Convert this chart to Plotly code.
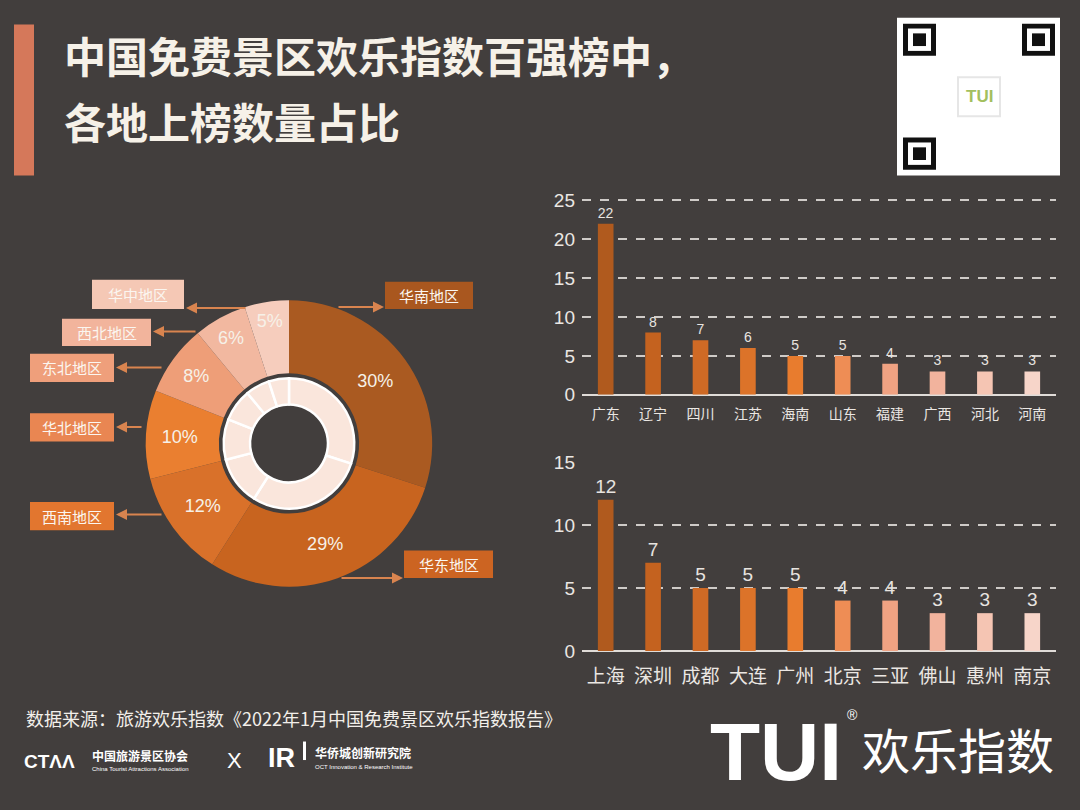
import plotly.graph_objects as go

W, H = 1080, 810
def px(x): return x / W
def py(y): return 1 - y / H

# ---------------- data ----------------
region_labels = ["华南地区", "华东地区", "西南地区", "华北地区", "东北地区", "西北地区", "华中地区"]
region_share = [30, 29, 12, 10, 8, 6, 5]

province_names = ["广东", "辽宁", "四川", "江苏", "海南", "山东", "福建", "广西", "河北", "河南"]
province_counts = [22, 8, 7, 6, 5, 5, 4, 3, 3, 3]

city_names = ["上海", "深圳", "成都", "大连", "广州", "北京", "三亚", "佛山", "惠州", "南京"]
city_counts = [12, 7, 5, 5, 5, 4, 4, 3, 3, 3]

# ---------------- styles ----------------
BG = "#423e3d"
CREAM = "#f6f1e8"
FONT = "Liberation Sans, Noto Sans CJK SC, sans-serif"
CJK = "Noto Sans CJK SC, sans-serif"

slice_colors = ["#aa5a21", "#c8641f", "#d9712a", "#ea7f30", "#ee9e78", "#f2b8a0", "#f6cdbd"]
box_colors = ["#a9571f", "#cc6422", "#e2762f", "#e98652", "#ef9f7b", "#f2b49c", "#f5c8b5"]
bar_colors = ["#b05a1e", "#c4621f", "#cf6a25", "#dc7329", "#e87c2e",
              "#ee8d55", "#f0a282", "#f2b39d", "#f5c5b3", "#f7d5c9"]

fig = go.Figure()

def note(x, y, text, size, color="#ffffff", family=CJK, xanchor="center", yanchor="middle"):
    fig.add_annotation(x=px(x), y=py(y), xref="paper", yref="paper", text=text, showarrow=False,
                       xanchor=xanchor, yanchor=yanchor,
                       font=dict(size=size, color=color, family=family))

def rect(x0, y0, x1, y1, color, layer="above"):
    fig.add_shape(type="rect", xref="paper", yref="paper", x0=px(x0), x1=px(x1), y0=py(y1), y1=py(y0),
                  fillcolor=color, line=dict(width=0), layer=layer)

# ---------------- donut ----------------
cx, cy, R = 289, 445, 147
fig.add_trace(go.Pie(
    labels=region_labels, values=region_share, sort=False, direction="clockwise",
    rotation=0, hole=72 / 147,
    domain=dict(x=[px(cx - R), px(cx + R)], y=[py(cy + R), py(cy - R)]),
    marker=dict(colors=slice_colors, line=dict(width=0)),
    texttemplate="%{value}%", textposition="inside", insidetextorientation="horizontal",
    textfont=dict(size=18, color=CREAM, family=FONT),
    showlegend=False, hoverinfo="label+value",
))
r2 = 67
fig.add_trace(go.Pie(
    labels=region_labels, values=region_share, sort=False, direction="clockwise",
    rotation=0, hole=40 / 67,
    domain=dict(x=[px(cx - r2), px(cx + r2)], y=[py(cy + r2), py(cy - r2)]),
    marker=dict(colors=["#fae6dc"] * len(region_share), line=dict(width=2.5, color="#ffffff")),
    textinfo="none", showlegend=False, hoverinfo="skip",
))

# label boxes (center x, center y, w, h) and arrows (tail x, head x, y)
boxes = [(429, 293, 88, 28), (448.5, 569, 89, 28), (72, 519.5, 84, 29), (72, 428.5, 84, 29),
         (72, 367.5, 84, 29), (106.5, 331, 89, 28), (138, 292, 92, 30)]
arrows = [(337, 384, 305), (340, 403, 583), (163, 116, 518), (143, 116, 428),
          (163, 116, 367), (197, 153, 330), (247, 186, 306)]
for lab, col, (bx, by, bw, bh), (tx, hx, ay) in zip(region_labels, box_colors, boxes, arrows):
    rect(bx - bw / 2, by - bh / 2, bx + bw / 2, by + bh / 2, col)
    note(bx, by, lab, 15, "#fbf6f0")
    fig.add_annotation(x=px(hx), y=py(ay), xref="paper", yref="paper", text="",
                       showarrow=True, ax=tx - hx, ay=0, arrowhead=2, arrowsize=1.1,
                       arrowwidth=2, arrowcolor="#d9844f")

# ---------------- bars ----------------
fig.add_trace(go.Bar(
    x=province_names, y=province_counts, xaxis="x", yaxis="y",
    marker=dict(color=bar_colors, line=dict(width=0)),
    text=province_counts, textposition="outside", cliponaxis=False, constraintext="none",
    textfont=dict(size=14, color="#e8e4e0", family=FONT), showlegend=False,
))
fig.add_trace(go.Bar(
    x=city_names, y=city_counts, xaxis="x2", yaxis="y2",
    marker=dict(color=bar_colors, line=dict(width=0)),
    text=city_counts, textposition="outside", cliponaxis=False, constraintext="none",
    textfont=dict(size=19, color="#e8e4e0", family=FONT), showlegend=False,
))

axis_common = dict(showgrid=True, gridcolor="#cfcbc8", griddash="dash", gridwidth=1.5,
                   zeroline=True, zerolinecolor="#e0dcd8", zerolinewidth=2,
                   tickfont=dict(size=19, color="#ebe7e3", family=FONT), ticks="", dtick=5,
                   ticklabelstandoff=6, fixedrange=True)

fig.update_layout(
    xaxis=dict(domain=[px(582), px(1056)], anchor="y", showgrid=False, ticks="",
               tickfont=dict(size=14, color="#ebe7e3", family=CJK), ticklabelstandoff=9),
    yaxis=dict(domain=[py(395), py(193)], range=[0, 25.3], anchor="x", **axis_common),
    xaxis2=dict(domain=[px(582), px(1056)], anchor="y2", showgrid=False, ticks="",
                tickfont=dict(size=19, color="#ebe7e3", family=CJK), ticklabelstandoff=12),
    yaxis2=dict(domain=[py(658), py(463.5)], range=[0, 15.04], anchor="x2", **axis_common),
    bargap=0.67,
)

# ---------------- title & decorations ----------------
rect(14, 15, 34, 170, "#d5785a")
note(62, 46, "<b>中国免费景区欢乐指数百强榜中，</b>", 42, CREAM, xanchor="left")
note(62, 113, "<b>各地上榜数量占比</b>", 42, CREAM, xanchor="left")

# QR-code placeholder
rect(897, 8, 1060, 170, "#ffffff")
for fx, fy in [(903, 14), (1022, 14), (903, 131)]:
    rect(fx, fy, fx + 33, fy + 33, "#111111")
    rect(fx + 5, fy + 5, fx + 28, fy + 28, "#ffffff")
    rect(fx + 10, fy + 10, fx + 23, fy + 23, "#111111")
rect(957, 68, 1001, 110, "#e6e6e6")
rect(959, 70, 999, 108, "#ffffff")
note(979, 89, "<b>TUI</b>", 17, "#a3bf5e", FONT)

# footer
note(24, 727, "数据来源：旅游欢乐指数《2022年1月中国免费景区欢乐指数报告》", 18, "#f2efea", xanchor="left")
note(22, 771, "<b>CTΛΛ</b>", 19, "#ffffff", FONT, xanchor="left")
note(90, 765, "<b>中国旅游景区协会</b>", 12, xanchor="left")
note(90, 779, "China Tourist Attractions Association", 6, family=FONT, xanchor="left")
note(234, 770, "X", 22, family=FONT)
note(266, 768, "<b>IR</b>", 27, family=FONT, xanchor="left")
rect(303, 751, 306, 770, "#ffffff")
note(313, 762, "<b>华侨城创新研究院</b>", 12, xanchor="left")
note(313, 777, "OCT Innovation & Research Institute", 6, family=FONT, xanchor="left")
note(708, 761, "<b>TUI</b>", 82, family=FONT, xanchor="left")
note(852, 724, "®", 14, family=FONT)
note(860, 758, "欢乐指数", 48, xanchor="left")

fig.update_layout(
    width=W, height=H, margin=dict(l=0, r=0, t=0, b=0),
    paper_bgcolor=BG, plot_bgcolor=BG,
    font=dict(family=FONT, color="#ebe7e3"),
)

fig.write_html("out.html")
